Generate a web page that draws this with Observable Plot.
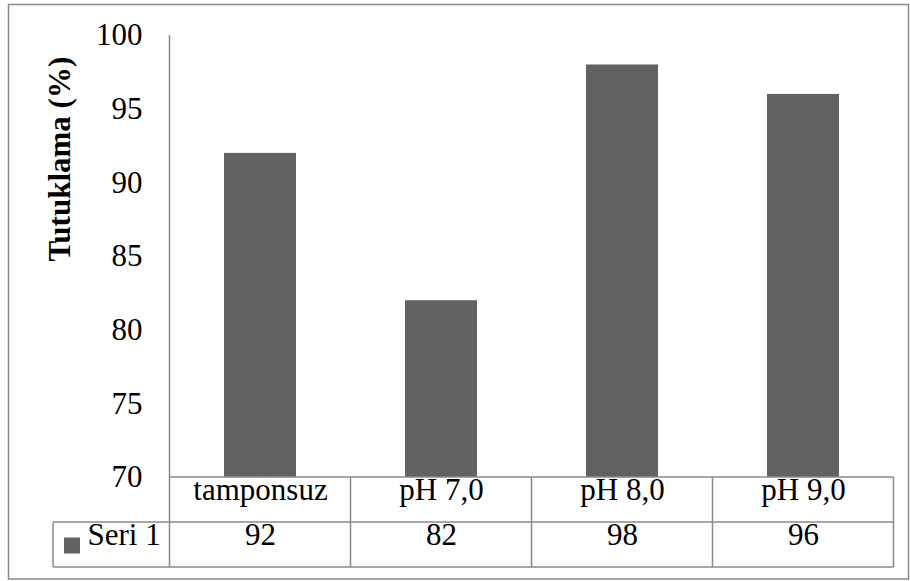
<!DOCTYPE html>
<html>
<head>
<meta charset="utf-8">
<script src="https://cdn.jsdelivr.net/npm/d3@7"></script>
<script src="https://cdn.jsdelivr.net/npm/@observablehq/plot@0.6"></script>
<style>
  html, body { margin: 0; padding: 0; background: #fff; }
  #chart { width: 910px; height: 581px; }
</style>
</head>
<body>
<div id="chart"></div>
<script>
// Retention by buffer condition
const categories = ["tamponsuz", "pH 7,0", "pH 8,0", "pH 9,0"];
const values = [92, 82, 98, 96];
const seriesName = "Seri 1";
const yTicks = [70, 75, 80, 85, 90, 95, 100];
const yTitle = "Tutuklama (%)";

const rows = categories.map((cat, i) => ({cat, value: values[i]}));
const yMin = yTicks[0], yMax = yTicks[yTicks.length - 1];

const fontSize = 31;
const barColor = "#626262";
const lineColor = "#8a8a8a";
const rowH = 45;

const textStyle = {fontFamily: "Liberation Serif", fontSize, fill: "#000"};

const plot = Plot.plot({
  width: 910,
  height: 581,
  marginLeft: 169,
  marginRight: 16,
  marginTop: 35,
  marginBottom: 104,
  style: {background: "#fff", overflow: "visible"},
  x: {domain: categories, paddingInner: 0.6, paddingOuter: 0.3, axis: null},
  y: {domain: [yMin, yMax], axis: null},
  marks: [
    Plot.barY(rows, {x: "cat", y1: yMin, y2: "value", fill: barColor}),
    Plot.axisY(yTicks, {tickSize: 0, tickPadding: 27, label: null, tickFormat: d => String(d), ...textStyle}),
    // data table: category row and value row
    Plot.text(rows, {x: "cat", text: "cat", frameAnchor: "bottom", dy: rowH / 2, ...textStyle}),
    Plot.text(rows, {x: "cat", text: d => String(d.value), frameAnchor: "bottom", dy: rowH * 1.5, ...textStyle}),
    Plot.text([seriesName], {text: d => d, frameAnchor: "bottom-left", dx: -82, dy: rowH * 1.5, textAnchor: "start", ...textStyle}),
    // y axis title
    Plot.text([yTitle], {text: d => d, frameAnchor: "left", rotate: -90, dx: -109, dy: 5, fontWeight: "bold", ...textStyle})
  ]
});

document.getElementById("chart").appendChild(plot);

const svg = d3.select(plot);
// serif face for every label, set directly on the text nodes
svg.selectAll("style").remove();
svg.attr("style", "font-family: 'Liberation Serif'; font-size: " + fontSize + "px; background: #fff; overflow: visible");
svg.selectAll("g").attr("font-family", null);
svg.selectAll("text")
  .attr("font-family", "Liberation Serif")
  .attr("style", "font-family: 'Liberation Serif'; font-size: " + fontSize + "px");

// Table grid, axis line, legend key and outer border
const xs = plot.scale("x");
const ys = plot.scale("y");
const yTop = ys.apply(yMax);
const yBase = ys.apply(yMin);
const edges = categories.map(c => xs.apply(c) + xs.bandwidth / 2 - xs.step / 2);
edges.push(edges[edges.length - 1] + xs.step);
const xLeft = edges[0], xRight = edges[edges.length - 1];
const legendLeft = 53;

const g = svg.append("g")
  .attr("stroke", lineColor)
  .attr("stroke-width", 1.5)
  .attr("fill", "none");

const line = (x1, y1, x2, y2) => g.append("line").attr("x1", x1).attr("y1", y1).attr("x2", x2).attr("y2", y2);

line(xLeft, yTop, xLeft, yBase + 2 * rowH);
edges.slice(1).forEach(x => line(x, yBase, x, yBase + 2 * rowH));
line(xLeft, yBase, xRight, yBase);
line(legendLeft, yBase + rowH, xRight, yBase + rowH);
line(legendLeft, yBase + 2 * rowH, xRight, yBase + 2 * rowH);
line(legendLeft, yBase + rowH, legendLeft, yBase + 2 * rowH);

// legend key
svg.append("rect")
  .attr("x", legendLeft + 11)
  .attr("y", yBase + rowH * 1.5 - 7)
  .attr("width", 16)
  .attr("height", 16)
  .attr("fill", barColor);

// chart border
svg.append("rect")
  .attr("x", 8.5)
  .attr("y", 4.5)
  .attr("width", 900)
  .attr("height", 574.5)
  .attr("fill", "none")
  .attr("stroke", lineColor)
  .attr("stroke-width", 1.5);
</script>
</body>
</html>
